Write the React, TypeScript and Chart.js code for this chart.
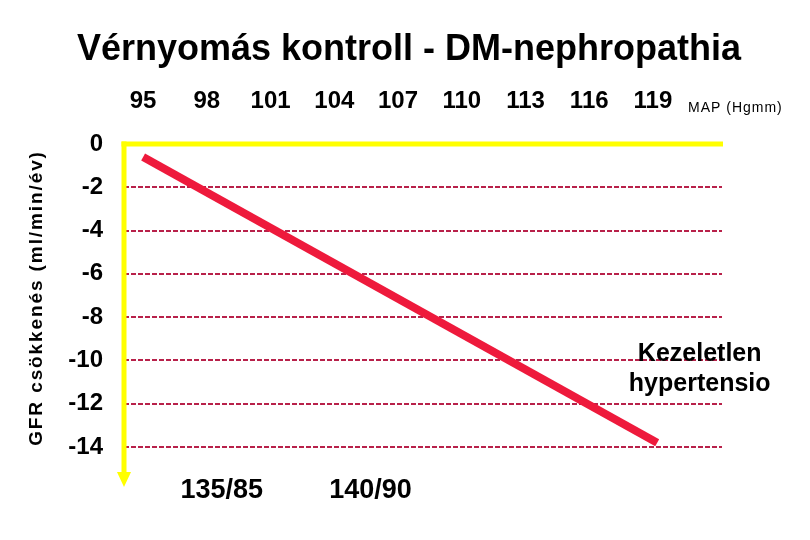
import React, { useEffect, useRef } from "react";
import { Chart, registerables } from "chart.js";

Chart.register(...registerables);

// ---- data ----
const mapTicks = [95, 98, 101, 104, 107, 110, 113, 116, 119];
const gfrTicks = [0, -2, -4, -6, -8, -10, -12, -14];
const lineMap = [95, 119.2];
const lineGfr = [-0.6, -13.8];
const bpLabels = ["135/85", "140/90"];
const bpMap = [98.7, 105.7];
const bpGfr = [-16, -16];
const seriesLabel = ["Kezeletlen", "hypertensio"];
const seriesLabelMap = [121.2, 121.2];
const seriesLabelGfr = [-9.7, -11.1];
const titleText = "Vérnyomás kontroll - DM-nephropathia";
const yTitleText = "GFR csökkenés (ml/min/év)";
const xUnitText = "MAP (Hgmm)";

const FONT = "'Liberation Sans', Arial, sans-serif";

export default function App() {
  const ref = useRef<HTMLCanvasElement | null>(null);

  useEffect(() => {
    document.body.style.margin = "0";
    const canvas = ref.current;
    if (!canvas) return;

    const decor = {
      id: "decor",
      beforeDatasetsDraw(chart: any) {
        const { ctx, chartArea } = chart;
        const ys = chart.scales.y;
        const y0 = ys.getPixelForValue(0);
        ctx.save();
        ctx.strokeStyle = "#ffff00";
        ctx.fillStyle = "#ffff00";
        ctx.lineWidth = 5;
        ctx.beginPath();
        ctx.moveTo(chartArea.left - 2.5, y0);
        ctx.lineTo(chartArea.right + 1, y0);
        ctx.stroke();
        ctx.beginPath();
        ctx.moveTo(chartArea.left, y0 - 2.5);
        ctx.lineTo(chartArea.left, chartArea.bottom + 26);
        ctx.stroke();
        ctx.beginPath();
        ctx.moveTo(chartArea.left - 7, chartArea.bottom + 25);
        ctx.lineTo(chartArea.left + 7, chartArea.bottom + 25);
        ctx.lineTo(chartArea.left, chartArea.bottom + 40);
        ctx.closePath();
        ctx.fill();
        ctx.restore();
      },
      afterDraw(chart: any) {
        const { ctx } = chart;
        const xs = chart.scales.x;
        const ys = chart.scales.y;
        ctx.save();
        ctx.fillStyle = "#000";
        // title
        ctx.font = `bold 36px ${FONT}`;
        ctx.textAlign = "center";
        ctx.textBaseline = "alphabetic";
        ctx.fillText(titleText, 409, 60);
        // unit label
        ctx.font = `14px ${FONT}`;
        (ctx as any).letterSpacing = "1px";
        ctx.textAlign = "left";
        ctx.fillText(xUnitText, 688, 112);
        // y title
        ctx.save();
        ctx.translate(37, 298);
        ctx.rotate(-Math.PI / 2);
        ctx.font = `bold 19px ${FONT}`;
        (ctx as any).letterSpacing = "1.9px";
        ctx.textAlign = "center";
        ctx.textBaseline = "middle";
        ctx.fillText(yTitleText, 0, 0);
        ctx.restore();
        (ctx as any).letterSpacing = "0px";
        // bp annotations
        ctx.font = `bold 27px ${FONT}`;
        ctx.textAlign = "center";
        ctx.textBaseline = "middle";
        bpLabels.forEach((t, i) => {
          ctx.fillText(t, xs.getPixelForValue(bpMap[i]), ys.getPixelForValue(bpGfr[i]));
        });
        // series label
        ctx.font = `bold 25px ${FONT}`;
        seriesLabel.forEach((t, i) => {
          ctx.fillText(t, xs.getPixelForValue(seriesLabelMap[i]), ys.getPixelForValue(seriesLabelGfr[i]));
        });
        ctx.restore();
      },
    };

    const chart = new Chart(canvas, {
      type: "line",
      data: {
        datasets: [
          {
            data: lineMap.map((x, i) => ({ x, y: lineGfr[i] })),
            borderColor: "#ee1a3c",
            borderWidth: 8,
            pointRadius: 0,
            borderCapStyle: "butt",
            fill: false,
          },
        ],
      },
      options: {
        animation: false,
        responsive: false,
        devicePixelRatio: 1,
        layout: { padding: { left: 0, top: 0, right: 88, bottom: 93 } },
        plugins: { legend: { display: false }, tooltip: { enabled: false }, title: { display: false } },
        scales: {
          x: {
            type: "linear",
            position: "top",
            min: 94.1,
            max: 122.25,
            grid: { display: false, drawTicks: false },
            border: { display: false },
            afterBuildTicks: (s: any) => {
              s.ticks = mapTicks.map((v) => ({ value: v }));
            },
            afterFit: (s: any) => {
              s.height = 144;
            },
            ticks: {
              autoSkip: false,
              maxRotation: 0,
              padding: 28,
              color: "#000",
              font: { family: FONT, size: 24, weight: "bold" },
              callback: (v: any) => String(v),
            },
          },
          y: {
            type: "linear",
            min: -14,
            max: 0,
            grid: {
              drawTicks: false,
              lineWidth: 2,
              color: (c: any) => (c.tick && c.tick.value === 0 ? "rgba(0,0,0,0)" : "#b8214a"),
            },
            border: { display: false, dash: [5, 2] },
            afterBuildTicks: (s: any) => {
              s.ticks = gfrTicks.map((v) => ({ value: v }));
            },
            afterFit: (s: any) => {
              s.width = 124;
            },
            ticks: {
              autoSkip: false,
              padding: 21,
              color: "#000",
              font: { family: FONT, size: 24, weight: "bold" },
              callback: (v: any) => String(v),
            },
          },
        },
      },
      plugins: [decor],
    } as any);

    return () => chart.destroy();
  }, []);

  return (
    <div style={{ position: "fixed", left: 0, top: 0, width: 810, height: 540, background: "#fff" }}>
      <canvas ref={ref} width={810} height={540} />
    </div>
  );
}
